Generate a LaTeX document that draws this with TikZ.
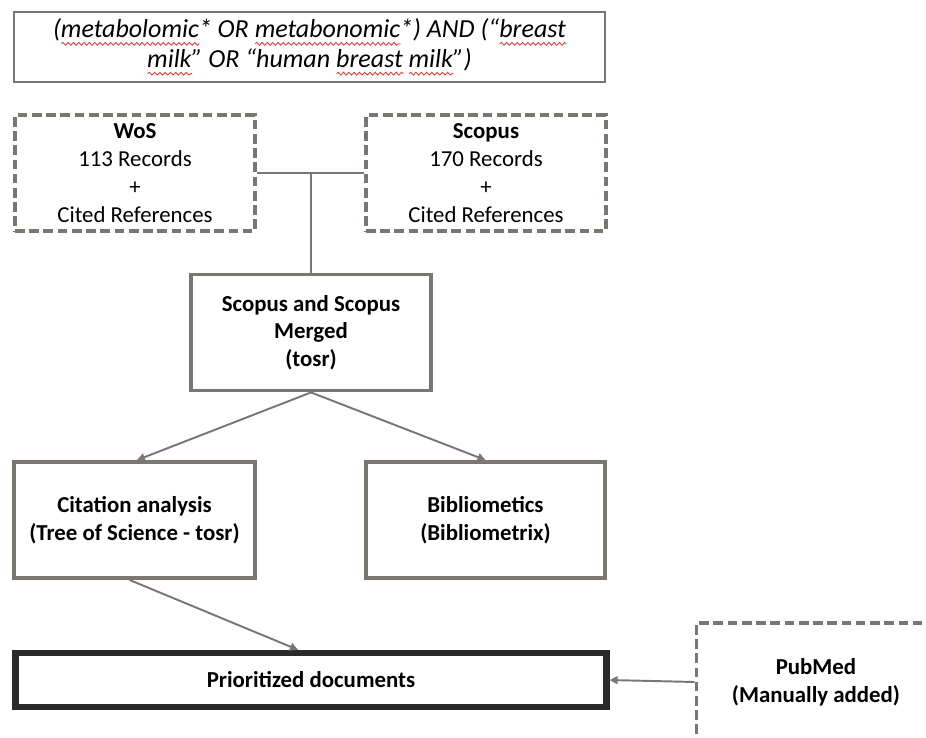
\documentclass[tikz,border=0pt]{standalone}
\usepackage{fontspec}
\setmainfont{Carlito}
\usetikzlibrary{arrows.meta,positioning,decorations.pathmorphing}
\definecolor{frame}{HTML}{7A7671}
\definecolor{strong}{HTML}{2A2A2A}
\definecolor{spell}{HTML}{E04040}
\newlength{\wavelen}
\newcommand{\spellwave}[1]{\settowidth{\wavelen}{#1}\rlap{\tikz[baseline=0pt]\draw[spell,line width=0.5pt,decorate,decoration={snake,amplitude=0.8pt,segment length=3pt}] (0pt,-3.6pt) -- (\wavelen,-3.6pt);}#1}

\begin{document}
\begin{tikzpicture}[
  box/.style={draw=frame,line width=2.2pt,fill=white,minimum width=#1,minimum height=2.32cm,align=center,font=\fontsize{13}{15.8}\selectfont,inner sep=2pt},
  dbox/.style={box=#1,dash pattern=on 5.5pt off 2.6pt},
  arr/.style={-{Triangle[length=4.5pt,width=4.5pt]},frame,line width=1.1pt},
  link/.style={frame,line width=1.1pt},
]
  \useasboundingbox (0,0) rectangle (18.52,-14.74);
  \clip (0,0) rectangle (18.52,-14.74);

  \node[box=11.82cm,line width=1.7pt,minimum height=1.4cm,font=\fontsize{14.8}{17}\selectfont\itshape] (query) at (6.19,-0.94)
    {(\spellwave{metabolomic}* OR \spellwave{metabonomic}*) AND (“\spellwave{breast}\\\spellwave{milk}” OR “human \spellwave{breast} \spellwave{milk}”)};

  \node[dbox=4.8cm] (wos) at (2.7,-3.46) {\textbf{WoS}\\113 Records\\+\\Cited References};
  \node[dbox=4.8cm] (scopus) at (9.72,-3.46) {\textbf{Scopus}\\170 Records\\+\\Cited References};
  \node[box=4.8cm,font=\fontsize{13}{15.8}\selectfont\bfseries] (merged) at (6.22,-6.65) {Scopus and Scopus\\Merged\\(tosr)};

  \node[box=4.82cm,font=\fontsize{13}{15.8}\selectfont\bfseries] (citation) at (2.69,-10.4) {Citation analysis\\(Tree of Science - tosr)};
  \node[box=4.78cm,font=\fontsize{13}{15.8}\selectfont\bfseries] (biblio) at (9.71,-10.4) {Bibliometics\\(Bibliometrix)};

  \node[box=11.82cm,draw=strong,line width=3.6pt,minimum height=1.08cm,font=\fontsize{13}{15.8}\selectfont\bfseries] (prior) at (6.22,-13.6) {Prioritized documents};
  \node[dbox=4.78cm,minimum height=2.36cm,font=\fontsize{13}{15.8}\selectfont\bfseries] (pubmed) at (16.32,-13.64) {PubMed\\(Manually added)};

  \draw[link] (wos.east) -- (scopus.west);
  \draw[link] (wos.east -| merged.north) -- (merged.north);
  \draw[arr] (merged.south) -- ([xshift=0.05cm]citation.north);
  \draw[arr] (merged.south) -- (biblio.north);
  \draw[arr] ([xshift=-0.1cm]citation.south) -- ([xshift=-0.26cm]prior.north);
  \draw[arr] (pubmed.west) -- (prior.east);
\end{tikzpicture}
\end{document}
